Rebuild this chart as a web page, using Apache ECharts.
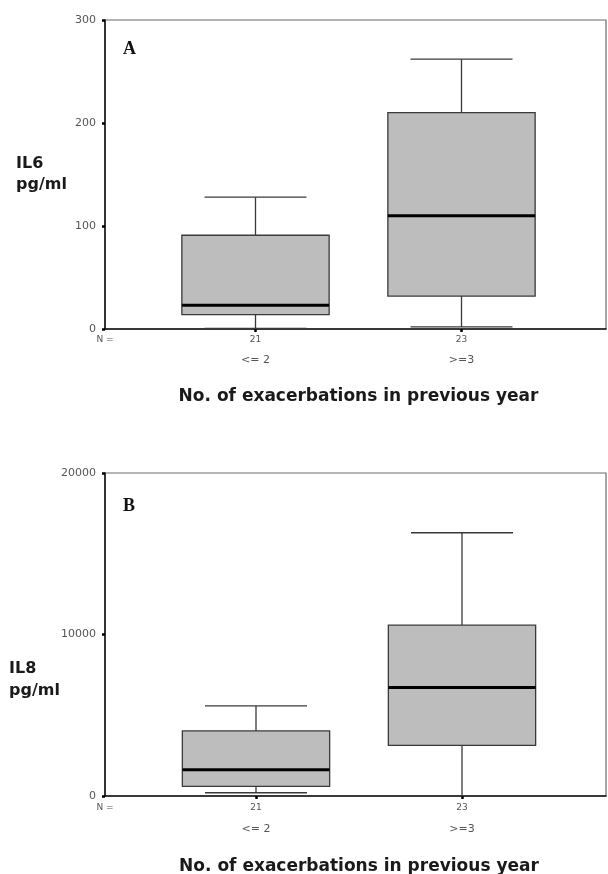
<!DOCTYPE html>
<html>
<head>
<meta charset="utf-8">
<script src="https://cdn.jsdelivr.net/npm/echarts@6/dist/echarts.min.js"></script>
<style>html,body{margin:0;padding:0;background:#fff}#c{width:608px;height:874px}</style>
</head>
<body>
<div id="c"></div>
<script>
// ---- data ----
const categories = ['<= 2', '>=3'];
const nCounts = ['21', '23'];
const xTitle = 'No. of exacerbations in previous year';

const il6Min = [0.5, 2];
const il6Q1 = [14, 32];
const il6Median = [23, 110];
const il6Q3 = [91, 210];
const il6Max = [128, 262];
const il6Axis = { min: 0, max: 300, interval: 100 };

const il8Min = [200, 20];
const il8Q1 = [600, 3140];
const il8Median = [1630, 6720];
const il8Q3 = [4030, 10580];
const il8Max = [5580, 16300];
const il8Axis = { min: 0, max: 20000, interval: 10000 };

function rows(mn, q1, md, q3, mx) {
  return categories.map((c, i) => [i, mn[i], q1[i], md[i], q3[i], mx[i]]);
}

const FONT = 'DejaVu Sans';
const LINE = '#3a3a3a';

function renderBox(params, api) {
  const x = api.value(0);
  const pMin = api.coord([x, api.value(1)]);
  const pQ1 = api.coord([x, api.value(2)]);
  const pMed = api.coord([x, api.value(3)]);
  const pQ3 = api.coord([x, api.value(4)]);
  const pMax = api.coord([x, api.value(5)]);
  const band = api.size([1, 0])[0];
  const bw = band * 0.715, cw = band * 0.495;
  const cx = pMed[0];
  const ls = { stroke: LINE, lineWidth: 1.3 };
  return {
    type: 'group',
    children: [
      { type: 'line', shape: { x1: cx, y1: pMin[1], x2: cx, y2: pQ1[1] }, style: ls },
      { type: 'line', shape: { x1: cx, y1: pQ3[1], x2: cx, y2: pMax[1] }, style: ls },
      { type: 'line', shape: { x1: cx - cw / 2, y1: pMin[1], x2: cx + cw / 2, y2: pMin[1] }, style: ls },
      { type: 'line', shape: { x1: cx - cw / 2, y1: pMax[1], x2: cx + cw / 2, y2: pMax[1] }, style: ls },
      { type: 'rect', shape: { x: cx - bw / 2, y: pQ3[1], width: bw, height: pQ1[1] - pQ3[1] },
        style: { fill: '#bdbdbd', stroke: LINE, lineWidth: 1.3 } },
      { type: 'line', shape: { x1: cx - bw / 2, y1: pMed[1], x2: cx + bw / 2, y2: pMed[1] },
        style: { stroke: '#000', lineWidth: 3 } }
    ]
  };
}

function frameX(gi, nGap) {
  return {
    gridIndex: gi, type: 'value', min: 0, max: 1, interval: 1,
    axisLine: { show: true, lineStyle: { color: '#111', width: 1.5 } },
    axisTick: { show: false }, splitLine: { show: false },
    axisLabel: { show: true, showMaxLabel: false, margin: nGap, fontFamily: FONT, fontSize: 9, color: '#555',
      formatter: v => (v === 0 ? 'N =' : '') }
  };
}
function nX(gi, nGap) {
  return {
    gridIndex: gi, type: 'category', data: categories, position: 'bottom', boundaryGap: true,
    axisLine: { show: false },
    axisTick: { show: true, alignWithLabel: true, length: 3, lineStyle: { color: '#000', width: 2.5 } },
    splitLine: { show: false },
    axisLabel: { margin: nGap, fontFamily: FONT, fontSize: 9, color: '#555', formatter: (v, i) => nCounts[i] }
  };
}
function catX(gi, cGap, tGap) {
  return {
    gridIndex: gi, type: 'category', data: categories, position: 'bottom', boundaryGap: true,
    axisLine: { show: false }, axisTick: { show: false }, splitLine: { show: false },
    axisLabel: { margin: cGap, fontFamily: FONT, fontSize: 11, color: '#555' },
    name: xTitle, nameLocation: 'middle', nameGap: tGap, nameMoveOverlap: false,
    nameTextStyle: { fontFamily: FONT, fontWeight: 'bold', fontSize: 17, color: '#1a1a1a' }
  };
}
function frameY(gi, ax, name, gap, vAlign, rich) {
  return {
    gridIndex: gi, type: 'value', min: ax.min, max: ax.max, interval: ax.interval,
    axisLine: { show: true, lineStyle: { color: '#111', width: 1.5 } },
    axisTick: { show: true, length: 3, lineStyle: { color: '#000', width: 2.5 } },
    splitLine: { show: false },
    axisLabel: { margin: 9, fontFamily: FONT, fontSize: 11, color: '#555', formatter: v => String(v) },
    name: name, nameLocation: 'middle', nameRotate: 0, nameGap: gap, nameMoveOverlap: false,
    nameTextStyle: { fontFamily: FONT, fontWeight: 'bold', fontSize: 16, color: '#1a1a1a',
      align: 'left', verticalAlign: vAlign, lineHeight: 21, rich: rich }
  };
}
function boxY(gi, ax) {
  return {
    gridIndex: gi, type: 'value', min: ax.min, max: ax.max, interval: ax.interval,
    axisLine: { show: false }, axisTick: { show: false }, axisLabel: { show: false }, splitLine: { show: false }
  };
}

const nameRich = {
  gap: { fontSize: 10, lineHeight: 23 },
  t: { fontFamily: FONT, fontWeight: 'bold', fontSize: 16, color: '#1a1a1a', lineHeight: 22 }
};

const chart = echarts.init(document.getElementById('c'), null, { renderer: 'canvas' });
chart.setOption({
  backgroundColor: '#fff',
  animation: false,
  title: [
    { text: 'A', left: 123, top: 40, padding: 0,
      textStyle: { fontFamily: 'Liberation Serif', fontWeight: 'bold', fontSize: 18, color: '#111' } },
    { text: 'B', left: 123, top: 497, padding: 0,
      textStyle: { fontFamily: 'Liberation Serif', fontWeight: 'bold', fontSize: 18, color: '#111' } }
  ],
  grid: [
    { left: 105, top: 20, width: 501, height: 309, show: true, borderColor: '#6a6a6a', borderWidth: 1.2,
      backgroundColor: 'transparent', outerBoundsMode: 'none' },
    { left: 152.5, top: 20, width: 412, height: 309, outerBoundsMode: 'none' },
    { left: 105, top: 473, width: 501, height: 323, show: true, borderColor: '#6a6a6a', borderWidth: 1.2,
      backgroundColor: 'transparent', outerBoundsMode: 'none' },
    { left: 153, top: 473, width: 412, height: 323, outerBoundsMode: 'none' }
  ],
  xAxis: [
    frameX(0, 6), nX(1, 6), catX(1, 26, 59),
    frameX(2, 7), nX(3, 7), catX(3, 28, 62)
  ],
  yAxis: [
    frameY(0, il6Axis, 'IL6\npg/ml', 89, 'middle', undefined),
    boxY(1, il6Axis),
    frameY(2, il8Axis, '{gap| }\n{t|IL8}\n{t|pg/ml}', 96, 'top', nameRich),
    boxY(3, il8Axis)
  ],
  series: [
    { type: 'custom', xAxisIndex: 1, yAxisIndex: 1, renderItem: renderBox,
      encode: { x: 0, y: [1, 2, 3, 4, 5] }, data: rows(il6Min, il6Q1, il6Median, il6Q3, il6Max), z: 3 },
    { type: 'custom', xAxisIndex: 4, yAxisIndex: 3, renderItem: renderBox,
      encode: { x: 0, y: [1, 2, 3, 4, 5] }, data: rows(il8Min, il8Q1, il8Median, il8Q3, il8Max), z: 3 }
  ]
});
</script>
</body>
</html>
